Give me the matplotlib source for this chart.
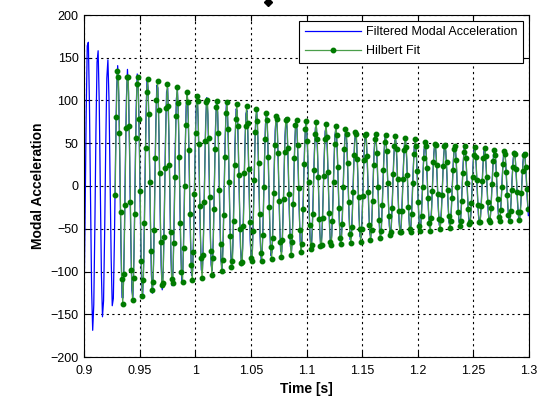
import numpy as np
import matplotlib
matplotlib.use("Agg")
import matplotlib.pyplot as plt
from matplotlib.lines import Line2D

# ---- values ----
fs = 1024.0                 # sample rate [Hz]
freq = 112.2                # oscillation frequency [Hz]
t_peak0 = 0.9036            # time of first positive peak [s]
# envelope of the filtered signal (read at these times)
env_t_blue = [0.90, 0.91, 0.92, 0.93, 1.00, 1.10, 1.20, 1.30]
env_a_blue = [182, 166, 150, 141, 107, 74, 52, 39]
# Hilbert fit: amplitude at start and decay rate
fit_start = 0.928
fit_amp0 = 140.0
fit_decay = 3.5
x_ticks = [0.9, 0.95, 1.0, 1.05, 1.1, 1.15, 1.2, 1.25, 1.3]
x_tick_labels = ["0.9", "0.95", "1", "1.05", "1.1", "1.15", "1.2", "1.25", "1.3"]
y_ticks = [-200, -150, -100, -50, 0, 50, 100, 150, 200]

t_blue = np.arange(0.9, 1.3 + 1e-9, 1 / fs)
env_blue = np.interp(t_blue, env_t_blue, env_a_blue)
blue = env_blue * np.cos(2 * np.pi * freq * (t_blue - t_peak0) + 0.08)

t_fit = np.arange(fit_start, 1.3 + 1e-9, 1 / fs)
fit = fit_amp0 * np.exp(-fit_decay * (t_fit - 0.93)) * np.cos(2 * np.pi * freq * (t_fit - t_peak0))

plt.rcParams['font.family'] = ['Liberation Sans', 'DejaVu Sans']
fig = plt.figure(figsize=(5.57, 3.97), dpi=100)
ax = fig.add_axes([84 / 557, 1 - 357 / 397, 445 / 557, 342 / 397])

ax.plot(t_blue, blue, color='#0000ff', lw=0.9, label='Filtered Modal Acceleration')
ax.plot(t_fit, fit, color='#4a9e4a', lw=0.9, marker='o', ms=3.2,
        mfc='#007a00', mec='#007a00', label='Hilbert Fit')

ax.set_xlim(0.9, 1.3)
ax.set_ylim(-200, 200)
ax.set_xticks(x_ticks)
ax.set_xticklabels(x_tick_labels)
ax.set_yticks(y_ticks)
ax.tick_params(axis='both', direction='in', top=True, right=True, labelsize=9, length=4)
ax.tick_params(axis='x', pad=6)
ax.tick_params(axis='y', pad=4)
ax.grid(True, color='black', linestyle=(0, (2, 3)), linewidth=0.8)
for s in ax.spines.values():
    s.set_linewidth(0.8)
ax.set_xlabel('Time [s]', fontsize=10, fontweight='bold', labelpad=3)
ax.set_ylabel('Modal Acceleration', fontsize=10, fontweight='bold', labelpad=4)

leg = ax.legend(loc='upper right', fontsize=9, fancybox=False, framealpha=1,
                edgecolor='black', borderaxespad=0.45, handlelength=4.5,
                borderpad=0.45, labelspacing=0.55, handletextpad=0.4)
leg.get_frame().set_linewidth(0.8)

fig.add_artist(Line2D([268 / 557], [1 - 1.5 / 397], marker='D', color='black', ms=4.5,
                      transform=fig.transFigure, clip_on=True))

fig.savefig('out.png', dpi=100, facecolor='white')
